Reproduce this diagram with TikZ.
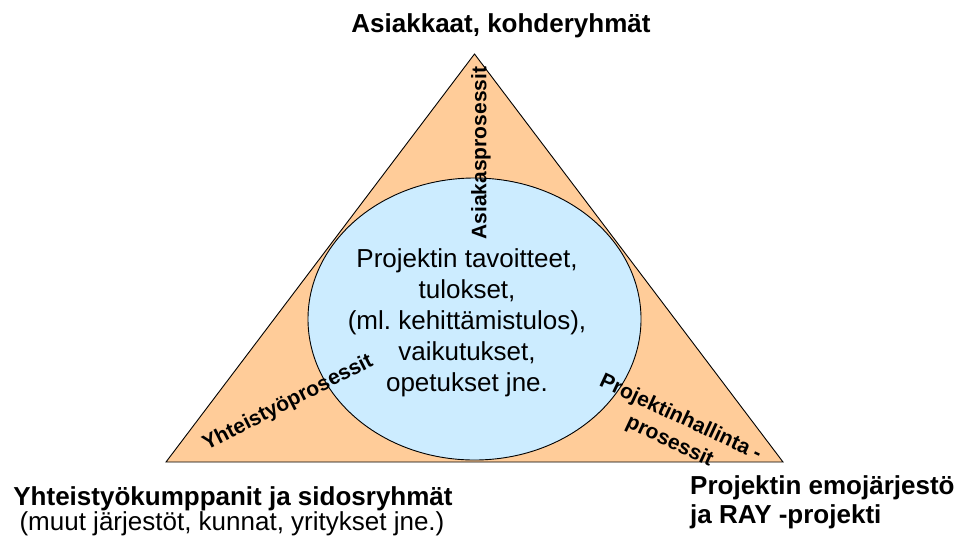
\documentclass[tikz,border=0pt]{standalone}
\usepackage{fontspec}
\setmainfont{Liberation Sans}
\usetikzlibrary{shapes.geometric}
\definecolor{peach}{HTML}{FFCC99}
\definecolor{lightblue}{HTML}{CCECFF}
\frenchspacing
\begin{document}
\begin{tikzpicture}[x=1pt,y=-1pt,
  outline/.style={draw=black, line width=0.9pt},
  biglabel/.style={font=\bfseries\fontsize{26}{31}\selectfont, inner sep=0pt},
  proclabel/.style={font=\bfseries\fontsize{21}{26}\selectfont, inner sep=0pt, align=center},
  bodytext/.style={font=\fontsize{26}{31}\selectfont, inner sep=0pt, align=center}]
\useasboundingbox (0,0) rectangle (960,542);
% triangle
\coordinate (apex) at (474.5,54);
\coordinate (bl) at (166,462);
\coordinate (br) at (783,462);
\fill[peach] (apex) -- (bl) -- (br) -- cycle;
% ellipse
\node[ellipse, draw=black, line width=0.9pt, fill=lightblue, minimum width=333pt, minimum height=282pt, inner sep=0pt] (goal) at (474.5,319) {};
\draw[outline] (apex) -- (bl) -- (br) -- cycle;
% centre text
\node[bodytext] (goaltext) at (467,323) {Projektin tavoitteet,\\tulokset,\\(ml. kehittämistulos),\\vaikutukset,\\opetukset jne.};
% process labels
\node[proclabel, rotate=90] (asiakas) at (481,153) {Asiakasprosessit};
\node[proclabel, rotate=27] (yhteistyo) at (288,403) {Yhteistyöprosessit};
\node[proclabel, rotate=-25] (hallinta) at (675,430) {Projektinhallinta -\\prosessit};
% outer labels
\node[biglabel, anchor=base] (top) at (501,32) {Asiakkaat, kohderyhmät};
\node[biglabel, anchor=base] (left1) at (233,505) {Yhteistyökumppanit ja sidosryhmät};
\node[bodytext, anchor=base] (left2) at (232,530) {(muut järjestöt, kunnat, yritykset jne.)};
\node[biglabel, anchor=base west] (right1) at (690,494) {Projektin emojärjestö};
\node[biglabel, anchor=base west] (right2) at (690,523) {ja RAY -projekti};
\end{tikzpicture}
\end{document}
